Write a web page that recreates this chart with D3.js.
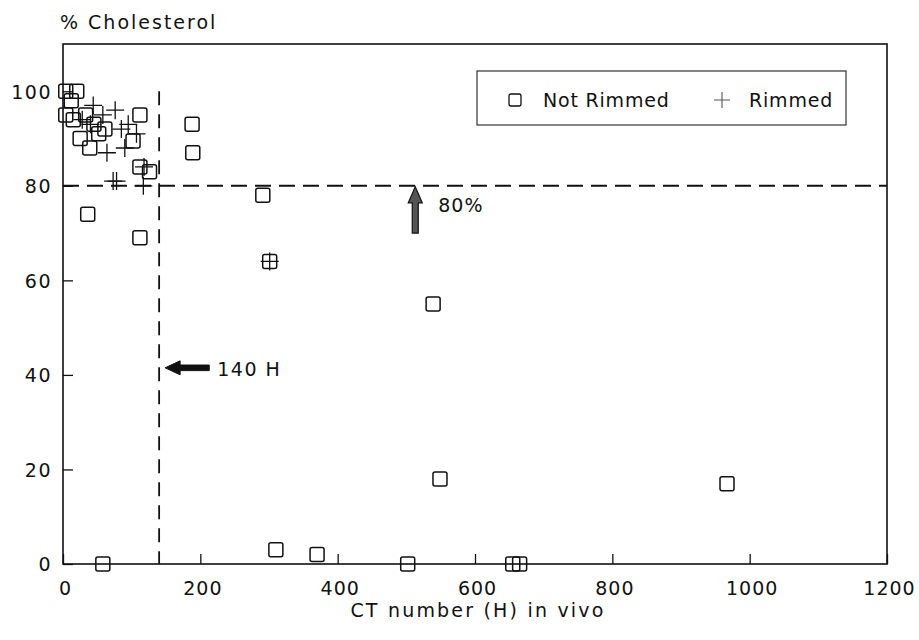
<!DOCTYPE html>
<html>
<head>
<meta charset="utf-8">
<script src="https://cdn.jsdelivr.net/npm/d3@7"></script>
<style>
  body { margin: 0; background: #fff; }
  text { font-family: "DejaVu Sans", sans-serif; fill: #111; }
</style>
</head>
<body>
<div id="chart"></div>
<script>
// data: [CT number (H), % cholesterol]
var notRimmed = [
  [4, 100], [20, 100], [12, 98], [4, 95], [15, 94], [33, 95], [45, 93],
  [52, 91], [61, 92], [25, 90], [39, 88], [112, 95], [102, 89.5], [112, 84],
  [126, 83], [36, 74], [112, 69], [188, 93], [189, 87], [291, 78], [301, 64],
  [58, 0], [310, 3], [370, 2], [502, 0], [655, 0], [665, 0], [539, 55],
  [549, 18], [967, 17]
];
var rimmed = [
  [44, 97], [76, 96], [58, 95], [28, 94], [95, 93], [40, 93], [85, 92],
  [107, 91], [90, 88], [64, 87], [118, 84], [73, 81], [78, 81], [117, 80],
  [301, 64]
];
var xTicks = [0, 200, 400, 600, 800, 1000, 1200];
var yTicks = [0, 20, 40, 60, 80, 100];
var cutCholesterol = 80;   // horizontal dashed line
var cutCT = 140;           // vertical dashed line

// set the dimensions and margins of the graph
var margin = {top: 44, right: 32, bottom: 76, left: 63},
    width = 919 - margin.left - margin.right,
    height = 640 - margin.top - margin.bottom;

var svg = d3.select("#chart")
  .append("svg")
    .attr("width", 919)
    .attr("height", 640)
  .append("g")
    .attr("transform", "translate(" + margin.left + "," + margin.top + ")");

var x = d3.scaleLinear().domain([0, 1200]).range([0, width]);
var y = d3.scaleLinear().domain([0, 110]).range([height, 0]);

// frame
svg.append("rect")
  .attr("x", 0).attr("y", 0)
  .attr("width", width).attr("height", height)
  .style("fill", "none")
  .style("stroke", "#111")
  .style("stroke-width", 1.6);

// X axis, ticks pointing inward
var xAxis = svg.append("g")
  .attr("transform", "translate(0," + height + ")")
  .call(d3.axisBottom(x).tickValues(xTicks).tickFormat(d3.format("d"))
    .tickSizeInner(-10).tickSizeOuter(0).tickPadding(18));
xAxis.select(".domain").remove();
xAxis.selectAll("line").style("stroke", "#111").style("stroke-width", 1.3);
xAxis.selectAll("text")
  .style("font-size", "19px")
  .style("letter-spacing", "1px")
  .style("font-family", "DejaVu Sans")
  .attr("dx", "2px");

// Y axis, ticks pointing inward
var yAxis = svg.append("g")
  .call(d3.axisLeft(y).tickValues(yTicks).tickFormat(d3.format("d"))
    .tickSizeInner(-10).tickSizeOuter(0).tickPadding(11));
yAxis.select(".domain").remove();
yAxis.selectAll("line").style("stroke", "#111").style("stroke-width", 1.3);
yAxis.selectAll("text")
  .style("font-size", "19px")
  .style("letter-spacing", "1.5px")
  .style("font-family", "DejaVu Sans")
  .attr("dy", "0.36em");

// axis titles
svg.append("text")
  .attr("x", -3)
  .attr("y", -15)
  .style("font-size", "19px")
  .style("letter-spacing", "2px")
  .text("% Cholesterol");

svg.append("text")
  .attr("text-anchor", "middle")
  .attr("x", x(600) + 3)
  .attr("y", height + 53)
  .style("font-size", "19px")
  .style("letter-spacing", "2.2px")
  .text("CT number (H) in vivo");

// cut-off lines
svg.append("line")
  .attr("x1", 0).attr("x2", width)
  .attr("y1", y(cutCholesterol)).attr("y2", y(cutCholesterol))
  .style("stroke", "#111")
  .style("stroke-width", 2)
  .style("stroke-dasharray", "16,8");

svg.append("line")
  .attr("x1", x(cutCT)).attr("x2", x(cutCT))
  .attr("y1", y(100)).attr("y2", y(0))
  .style("stroke", "#111")
  .style("stroke-width", 1.8)
  .style("stroke-dasharray", "14,9");

// 80% arrow (points up to the dashed line)
var ax = x(513), ayTip = y(cutCholesterol) + 1, ayTail = y(70);
svg.append("path")
  .attr("d", "M" + ax + "," + ayTip +
    " L" + (ax + 7) + "," + (ayTip + 16) +
    " L" + (ax + 3) + "," + (ayTip + 16) +
    " L" + (ax + 3) + "," + ayTail +
    " L" + (ax - 3) + "," + ayTail +
    " L" + (ax - 3) + "," + (ayTip + 16) +
    " L" + (ax - 7) + "," + (ayTip + 16) + " Z")
  .style("fill", "#555")
  .style("stroke", "#111")
  .style("stroke-width", 1.2);

svg.append("text")
  .attr("x", ax + 23)
  .attr("y", y(76) + 7)
  .style("font-size", "19px")
  .style("letter-spacing", "1px")
  .text("80%");

// 140 H arrow (points left to the dashed line)
var hy = y(41.5), hxTip = x(cutCT) + 6, hxTail = x(213);
svg.append("path")
  .attr("d", "M" + hxTip + "," + hy +
    " L" + (hxTip + 15) + "," + (hy - 7) +
    " L" + (hxTip + 15) + "," + (hy - 2.8) +
    " L" + hxTail + "," + (hy - 2.8) +
    " L" + hxTail + "," + (hy + 2.8) +
    " L" + (hxTip + 15) + "," + (hy + 2.8) +
    " L" + (hxTip + 15) + "," + (hy + 7) + " Z")
  .style("fill", "#111")
  .style("stroke", "#111")
  .style("stroke-width", 1);

svg.append("text")
  .attr("x", hxTail + 8)
  .attr("y", hy + 8)
  .style("font-size", "19px")
  .style("letter-spacing", "1.5px")
  .text("140 H");

// markers
var sq = 14, cr = 9;

svg.append("g")
  .selectAll("rect")
  .data(notRimmed)
  .enter()
  .append("rect")
    .attr("x", function(d) { return x(d[0]) - sq / 2; })
    .attr("y", function(d) { return y(d[1]) - sq / 2; })
    .attr("width", sq)
    .attr("height", sq)
    .attr("rx", 2)
    .style("fill", "none")
    .style("stroke", "#111")
    .style("stroke-width", 1.5);

svg.append("g")
  .selectAll("path")
  .data(rimmed)
  .enter()
  .append("path")
    .attr("d", function(d) {
      var cx = x(d[0]), cy = y(d[1]);
      return "M" + (cx - cr) + "," + cy + " H" + (cx + cr) +
             " M" + cx + "," + (cy - cr) + " V" + (cy + cr);
    })
    .style("fill", "none")
    .style("stroke", "#111")
    .style("stroke-width", 1.3);

// Legend
var lg = svg.append("g").attr("transform", "translate(" + (477 - margin.left) + "," + (71 - margin.top) + ")");
lg.append("rect")
  .attr("width", 369).attr("height", 54)
  .style("fill", "#fff")
  .style("stroke", "#333")
  .style("stroke-width", 1.2);
lg.append("rect")
  .attr("x", 38 - 6).attr("y", 29 - 6)
  .attr("width", 12).attr("height", 12)
  .attr("rx", 2)
  .style("fill", "none")
  .style("stroke", "#111")
  .style("stroke-width", 1.3);
lg.append("text")
  .attr("x", 66).attr("y", 36)
  .style("font-size", "19px")
  .style("letter-spacing", "0.8px")
  .text("Not Rimmed");
lg.append("path")
  .attr("d", "M237,29 H253 M245,21 V37")
  .style("stroke", "#555")
  .style("stroke-width", 1.1);
lg.append("text")
  .attr("x", 272).attr("y", 36)
  .style("font-size", "19px")
  .style("letter-spacing", "0.8px")
  .text("Rimmed");
</script>
</body>
</html>
